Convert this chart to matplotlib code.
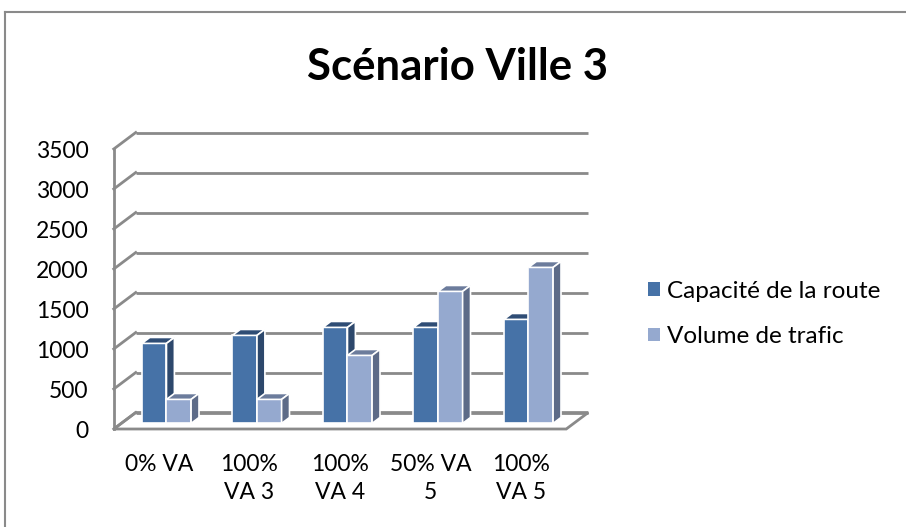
import numpy as np
import matplotlib
matplotlib.use('Agg')
import matplotlib.pyplot as plt
from matplotlib.patches import Polygon
from matplotlib.lines import Line2D
from matplotlib import rcParams
rcParams['font.family'] = 'Lato'

# data
categories = ['0% VA', '100%\nVA 3', '100%\nVA 4', '50% VA\n5', '100%\nVA 5']
series_names = ['Capacité de la route', 'Volume de trafic']
capacite = [1000, 1100, 1200, 1200, 1300]
volume = [300, 300, 850, 1650, 1950]
yticks = [0, 500, 1000, 1500, 2000, 2500, 3000, 3500]
title = 'Scénario Ville 3'

# colours (front, top, side)
front_cols = ['#4672A7', '#95A9CF']
top_cols = ['#2F4D75', '#6C7C9C']
side_cols = ['#2D486C', '#5D6B88']
grid_col = '#8A8A8A'

# oblique depth offsets (data units)
DX = 0.243   # category units
DY = 206     # value units
d0, d1 = 0.34, 0.70
w = 0.272
fs = 16.5

fig = plt.figure(figsize=(9.06, 5.27), dpi=100)
# px = 159 + 90.5*x ; py = 429 - 0.08*v
x_lo, x_hi = -0.5, 4.75
y_lo, y_hi = 0, 3750
left_px = 159 + 90.5 * x_lo
right_px = 159 + 90.5 * x_hi
top_px = 429 - 0.08 * y_hi
ax = fig.add_axes([left_px / 906, (527 - 429) / 527,
                   (right_px - left_px) / 906, (429 - top_px) / 527])
ax.set_xlim(x_lo, x_hi)
ax.set_ylim(y_lo, y_hi)
for sp in ax.spines.values():
    sp.set_visible(False)

n = len(categories)
xl, xr = -0.5, n - 0.5

# floor
floor = Polygon([(xl, 0), (xr, 0), (xr + DX, DY), (xl + DX, DY)],
                closed=True, facecolor='white', edgecolor=grid_col, lw=2,
                clip_on=False, zorder=1)
ax.add_patch(floor)

# back wall gridlines + side wall diagonals
for v in yticks:
    ax.plot([xl + DX, xr + DX], [v + DY, v + DY], color=grid_col, lw=2,
            clip_on=False, zorder=1, solid_capstyle='butt')
    ax.plot([xl, xl + DX], [v, v + DY], color=grid_col, lw=2,
            clip_on=False, zorder=1)
ax.plot([xl, xl], [0, yticks[-1]], color=grid_col, lw=2, clip_on=False, zorder=1)

# bars, painted left to right
values = [capacite, volume]
z = 3
for i in range(n):
    for s in range(2):
        val = values[s][i]
        x0 = i + (s - 1) * w + d0 * DX
        x1 = x0 + w
        b = d0 * DY
        t = b + val
        ddx = (d1 - d0) * DX
        ddy = (d1 - d0) * DY
        ax.bar(x0, val, width=w, bottom=b, align='edge', color=front_cols[s],
               edgecolor='white', lw=1.2, zorder=z,
               label=series_names[s] if i == 0 else None)
        ax.add_patch(Polygon([(x0, t), (x1, t), (x1 + ddx, t + ddy), (x0 + ddx, t + ddy)],
                             closed=True, facecolor=top_cols[s], edgecolor='white',
                             lw=1.2, zorder=z))
        ax.add_patch(Polygon([(x1, b), (x1 + ddx, b + ddy), (x1 + ddx, t + ddy), (x1, t)],
                             closed=True, facecolor=side_cols[s], edgecolor='white',
                             lw=1.2, zorder=z))
        z += 1

# ticks
ax.set_yticks(yticks)
ax.set_yticklabels([str(v) for v in yticks], fontsize=fs)
ax.tick_params(axis='y', length=0, pad=18)
ax.set_xticks(range(n))
ax.set_xticklabels(categories, fontsize=fs)
ax.tick_params(axis='x', length=0, pad=18)
for lab in ax.get_xticklabels():
    lab.set_linespacing(1.4)

# title
fig.text(457.5 / 906, 1 - 80 / 527, title, fontsize=31.5, fontweight='bold',
         ha='center', va='baseline')

# legend
leg = ax.legend(loc='center left', bbox_to_anchor=(648 / 906, 1 - 314 / 527),
                bbox_transform=fig.transFigure, frameon=False, fontsize=17.5,
                handlelength=0.48, handleheight=0.48, handletextpad=0.3,
                labelspacing=1.0, borderpad=0, borderaxespad=0)
for h in leg.legend_handles:
    h.set_edgecolor('none')

# chart border (left and top)
fig.add_artist(Line2D([5 / 906, 5 / 906], [0, 1 - 12 / 527], color='#8A8A8A', lw=1.5))
fig.add_artist(Line2D([5 / 906, 1], [1 - 12 / 527, 1 - 12 / 527], color='#8A8A8A', lw=1.5))

fig.savefig('out.png', dpi=100)
